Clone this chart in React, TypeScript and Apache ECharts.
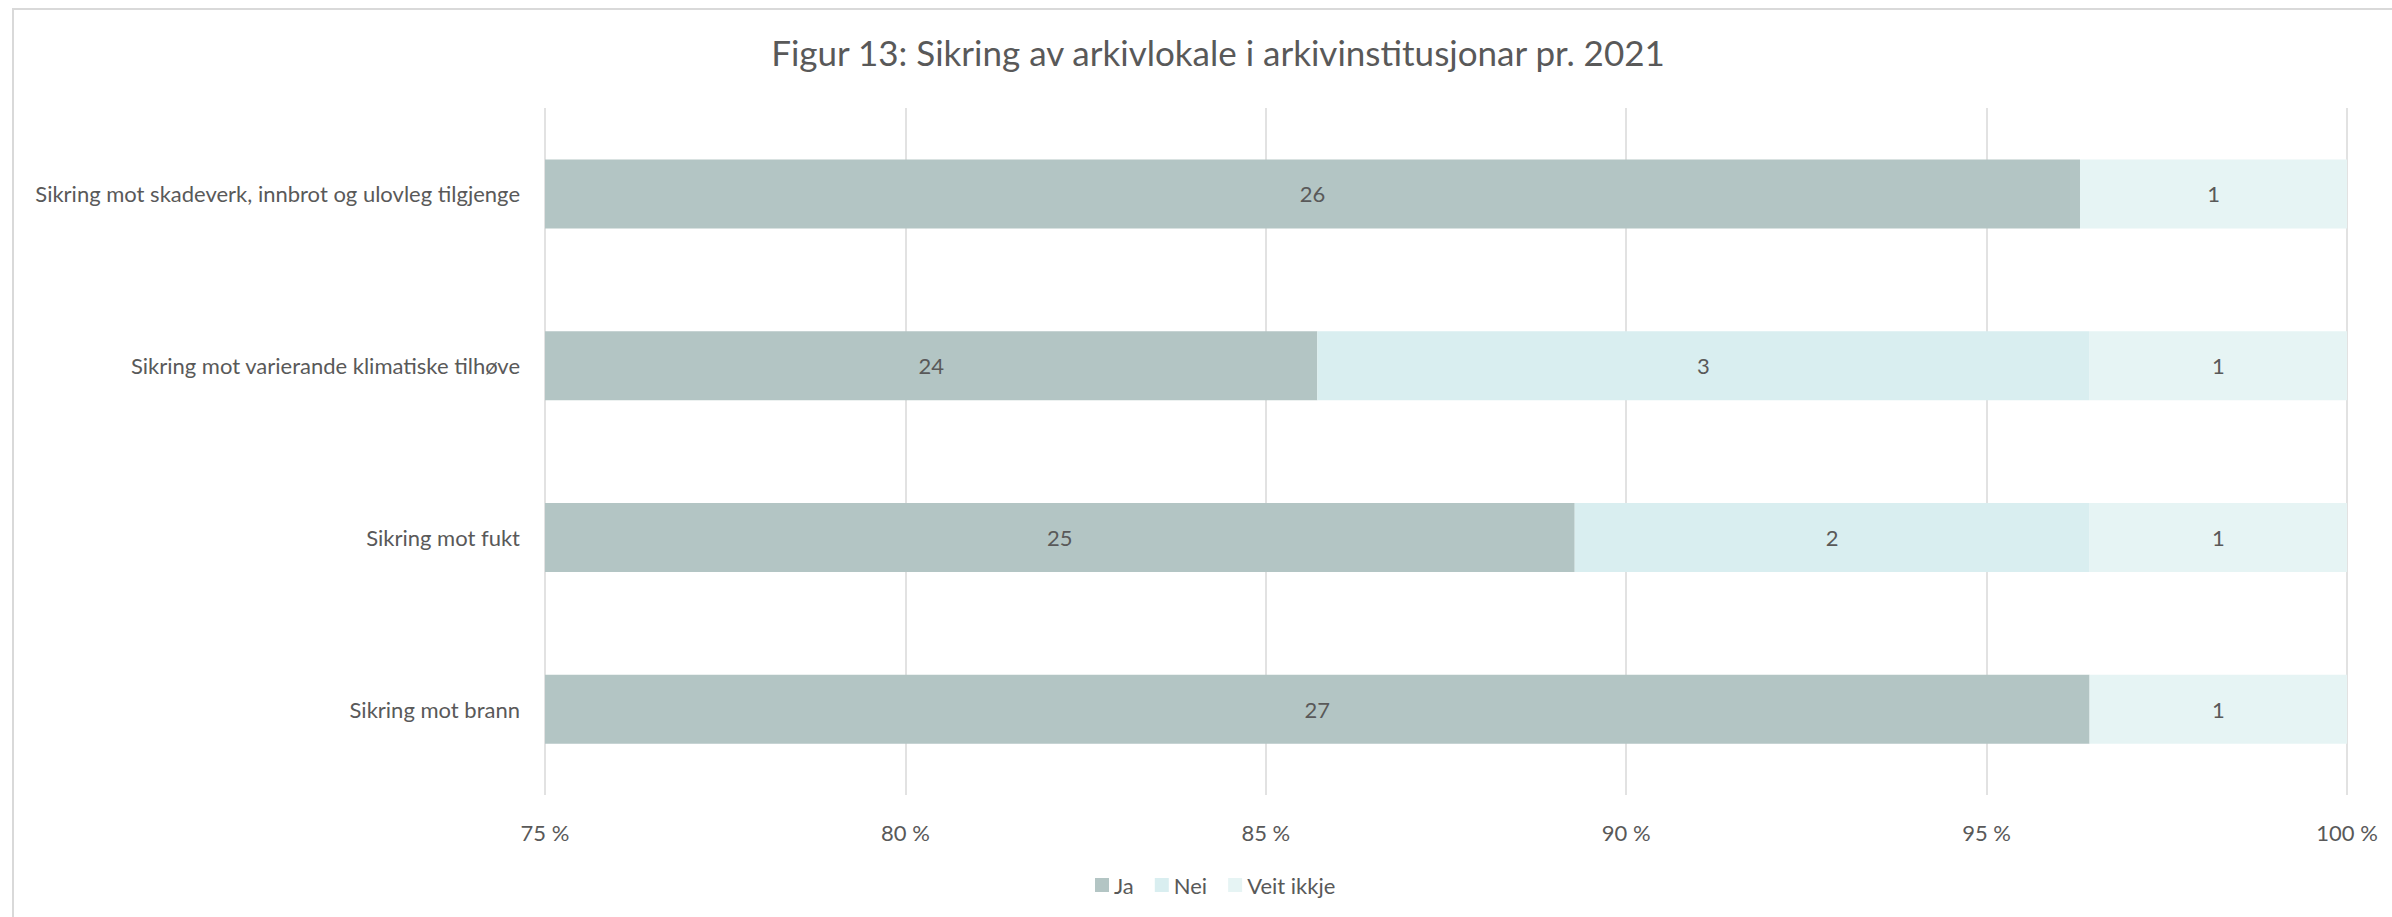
import React, { useEffect, useRef } from "react";
import * as echarts from "echarts";

const categories = [
  "Sikring mot skadeverk, innbrot og ulovleg tilgjenge",
  "Sikring mot varierande klimatiske tilhøve",
  "Sikring mot fukt",
  "Sikring mot brann",
];
const seriesNames = ["Ja", "Nei", "Veit ikkje"];
const jaCounts = [26, 24, 25, 27];
const neiCounts = [0, 3, 2, 0];
const veitCounts = [1, 1, 1, 1];
const xTicks = { min: 75, max: 100, interval: 5 };
const colors = ["#b3c5c4", "#d9eef0", "#e6f4f4"];

const FONT = "Lato, 'Noto Sans', sans-serif";
const TEXT = "#595959";

export default function App() {
  const ref = useRef<HTMLDivElement>(null);
  useEffect(() => {
    if (!ref.current) return;
    const chart = echarts.init(ref.current, undefined, { renderer: "svg" });
    const all = [jaCounts, neiCounts, veitCounts];
    const totals = categories.map((_, i) => all.reduce((s, a) => s + a[i], 0));
    const series = all.map((counts, si) => ({
      name: seriesNames[si],
      type: "bar",
      stack: "total",
      barWidth: 69,
      itemStyle: { color: colors[si] },
      label: {
        show: true,
        position: "inside",
        color: TEXT,
        fontFamily: FONT,
        fontSize: 22,
        formatter: (p: any) => (counts[p.dataIndex] ? String(counts[p.dataIndex]) : ""),
      },
      data: counts.map((c, i) => (c / totals[i]) * 100),
    }));
    chart.setOption({
      animation: false,
      textStyle: { fontFamily: FONT },
      title: {
        text: "Figur 13: Sikring av arkivlokale i arkivinstitusjonar pr. 2021",
        left: 1213,
        textAlign: "center",
        top: 29,
        textStyle: { color: TEXT, fontFamily: FONT, fontSize: 35, fontWeight: "normal" },
      },
      legend: {
        data: seriesNames,
        left: 1090,
        top: 869,
        itemWidth: 14,
        itemHeight: 14,
        itemGap: 21,
        icon: "rect",
        textStyle: { color: TEXT, fontFamily: FONT, fontSize: 22 },
      },
      graphic: [
        {
          type: "rect",
          shape: { x: 13, y: 9, width: 2500, height: 1000 },
          style: { fill: "none", stroke: "#d9d9d9", lineWidth: 2 },
          silent: true,
        },
      ],
      grid: {
        left: 545,
        right: 45,
        top: 108,
        bottom: 122,
        containLabel: false,
        outerBoundsMode: "none",
      },
      xAxis: {
        type: "value",
        min: xTicks.min,
        max: xTicks.max,
        interval: xTicks.interval,
        axisLine: { show: false },
        axisTick: { show: false },
        splitLine: { show: true, lineStyle: { color: "#d9d9d9", width: 1.5 } },
        axisLabel: {
          color: TEXT,
          fontFamily: FONT,
          fontSize: 22,
          margin: 26,
          formatter: (v: number) => `${v} %`,
        },
      },
      yAxis: {
        type: "category",
        data: categories,
        inverse: true,
        axisLine: { show: false },
        axisTick: { show: false },
        axisLabel: { color: TEXT, fontFamily: FONT, fontSize: 22, margin: 25 },
      },
      series,
    });
    return () => chart.dispose();
  }, []);
  return (
    <div
      ref={ref}
      style={{ position: "fixed", left: 0, top: 0, width: 2392, height: 917, background: "#fff" }}
    />
  );
}
